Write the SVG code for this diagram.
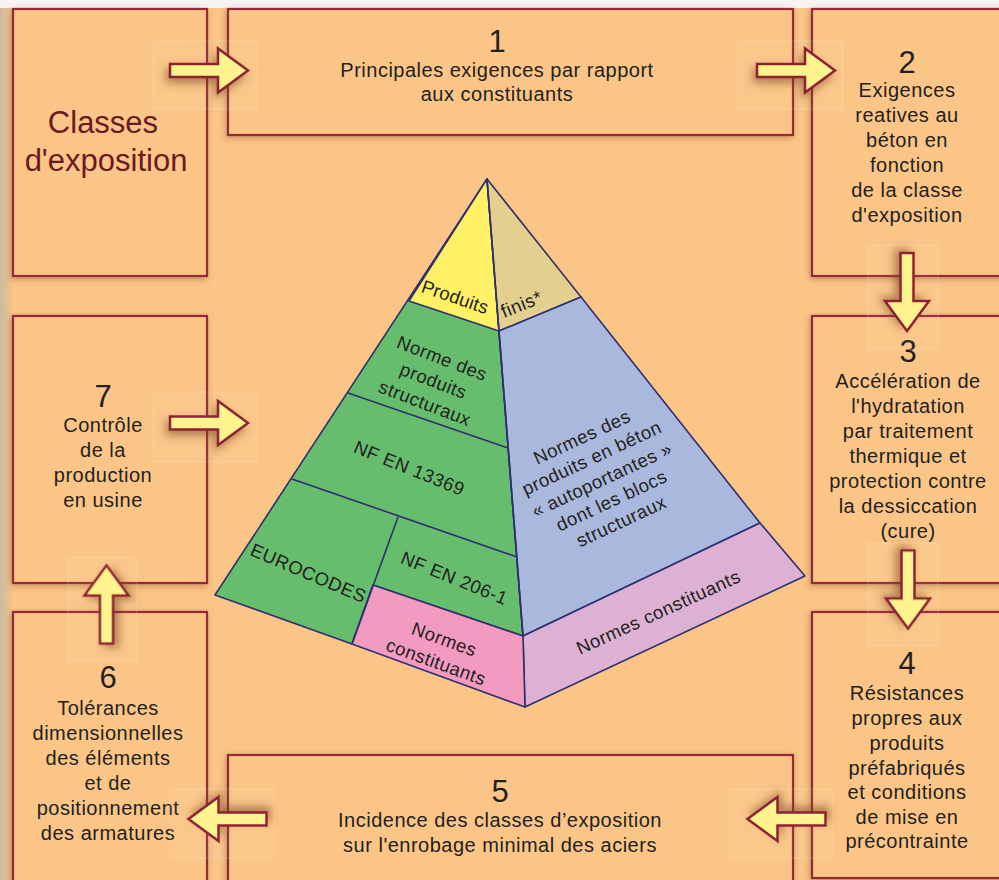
<svg xmlns="http://www.w3.org/2000/svg" width="999" height="880" viewBox="0 0 999 880">
<defs>
<linearGradient id="edge" x1="0" y1="0" x2="1" y2="0">
<stop offset="0" stop-color="#cdb9a2"/><stop offset="1" stop-color="#f2c38c"/>
</linearGradient>
<filter id="bsh" x="-10%" y="-10%" width="120%" height="120%">
<feDropShadow dx="-1" dy="2" stdDeviation="3" flood-color="#6b3418" flood-opacity="0.4"/>
</filter>
<filter id="ash" x="-40%" y="-40%" width="180%" height="180%">
<feDropShadow dx="-3" dy="5" stdDeviation="4" flood-color="#6b3418" flood-opacity="0.5"/>
</filter>
<path id="arr" d="M-39,-6.5 H9 V-22 L39,0 L9,22 V6.5 H-39 Z"/>
<style>
.box{fill:#fbc587;stroke:#962a38;stroke-width:2.2;filter:url(#bsh)}
.t{font-family:"Liberation Sans",Arial,sans-serif;fill:#231f20;font-size:20px;letter-spacing:0.5px;text-anchor:middle}
.n{font-size:31px;letter-spacing:0}
.cl{font-size:31px;fill:#6b1a1f;letter-spacing:0}
.a{fill:#fff38e;stroke:#8e2433;stroke-width:2.5;stroke-linejoin:miter;filter:url(#ash)}
.ghost{fill:#ffffff;fill-opacity:0.04;stroke:#ffffff;stroke-opacity:0.18;stroke-width:1}
.pl{stroke:#2e306e;stroke-width:1.6;stroke-linejoin:round}
.p{font-family:"Liberation Sans",Arial,sans-serif;fill:#231f20;font-size:18.5px;letter-spacing:0.5px;text-anchor:middle}
</style>
</defs>
<rect x="0" y="0" width="999" height="880" fill="#fbc587"/>
<rect x="0" y="0" width="12" height="880" fill="url(#edge)"/>
<rect x="0" y="0" width="999" height="8" fill="#f6f5f2"/>

<g id="node-classes"><rect class="box" x="13" y="9" width="194" height="267"/>
<text class="t cl" x="103" y="133">Classes</text><text class="t cl" x="106" y="171">d'exposition</text></g>

<g id="node-1"><rect class="box" x="228" y="9" width="565" height="126"/>
<text class="t n" x="497" y="52">1</text>
<text class="t" x="497" y="77">Principales exigences par rapport</text>
<text class="t" x="497" y="101">aux constituants</text></g>

<g id="node-2"><rect class="box" x="812" y="9" width="200" height="267"/>
<text class="t n" x="907" y="73">2</text>
<text class="t" x="907" y="97">Exigences</text>
<text class="t" x="907" y="122">reatives au</text>
<text class="t" x="907" y="147">béton en</text>
<text class="t" x="907" y="172">fonction</text>
<text class="t" x="907" y="197">de la classe</text>
<text class="t" x="907" y="222">d'exposition</text></g>

<g id="node-3"><rect class="box" x="812" y="316" width="200" height="267"/>
<text class="t n" x="908" y="362">3</text>
<text class="t" x="908" y="388">Accélération de</text>
<text class="t" x="908" y="413">l'hydratation</text>
<text class="t" x="908" y="438">par traitement</text>
<text class="t" x="908" y="463">thermique et</text>
<text class="t" x="908" y="488">protection contre</text>
<text class="t" x="908" y="513">la dessiccation</text>
<text class="t" x="908" y="538">(cure)</text></g>

<g id="node-4"><rect class="box" x="812" y="612" width="200" height="266"/>
<text class="t n" x="907" y="674">4</text>
<text class="t" x="907" y="700">Résistances</text>
<text class="t" x="907" y="725">propres aux</text>
<text class="t" x="907" y="750">produits</text>
<text class="t" x="907" y="775">préfabriqués</text>
<text class="t" x="907" y="799">et conditions</text>
<text class="t" x="907" y="824">de mise en</text>
<text class="t" x="907" y="848">précontrainte</text></g>

<g id="node-5"><rect class="box" x="228" y="755" width="565" height="140"/>
<text class="t n" x="500" y="802">5</text>
<text class="t" x="500" y="827">Incidence des classes d’exposition</text>
<text class="t" x="500" y="852">sur l'enrobage minimal des aciers</text></g>

<g id="node-6"><rect class="box" x="13" y="612" width="194" height="280"/>
<text class="t n" x="108" y="688">6</text>
<text class="t" x="108" y="715">Tolérances</text>
<text class="t" x="108" y="740">dimensionnelles</text>
<text class="t" x="108" y="765">des éléments</text>
<text class="t" x="108" y="790">et de</text>
<text class="t" x="108" y="815">positionnement</text>
<text class="t" x="108" y="840">des armatures</text></g>

<g id="node-7"><rect class="box" x="13" y="316" width="194" height="267"/>
<text class="t n" x="103" y="407">7</text>
<text class="t" x="103" y="432">Contrôle</text>
<text class="t" x="103" y="457">de la</text>
<text class="t" x="103" y="482">production</text>
<text class="t" x="103" y="507">en usine</text></g>

<g id="node-pyramid">
<polygon class="pl" fill="#66bd6e" points="487,179 215,595 352,644 373,585 523,636"/>
<polygon class="pl" fill="#fff066" points="487,179 409,301 499,331"/>
<polygon class="pl" fill="#e3d08f" points="487,179 499,331 581,297"/>
<polygon class="pl" fill="#abb8de" points="581,297 760,523 523,636 499,331"/>
<polygon class="pl" fill="#ddb1d4" points="523,636 760,523 805,576 525,707"/>
<polygon class="pl" fill="#f39ac0" points="373,585 523,636 525,707 352,644"/>
<line class="pl" x1="487" y1="179" x2="523" y2="636"/>
<line class="pl" x1="348" y1="393" x2="508" y2="448"/>
<line class="pl" x1="292" y1="479" x2="517" y2="557"/>
<line class="pl" x1="398" y1="517" x2="352" y2="644"/>
<text class="p" transform="translate(453,303) rotate(19)" style="letter-spacing:0.2px">Produits</text>
<text class="p" transform="translate(524,310) rotate(-22)">finis*</text>
<g transform="translate(433,382) rotate(21)">
<text class="p" x="0" y="-19">Norme des</text>
<text class="p" x="0" y="5">produits</text>
<text class="p" x="0" y="29">structuraux</text></g>
<text class="p" transform="translate(407,474) rotate(22)">NF EN 13369</text>
<text class="p" transform="translate(306,579) rotate(23)">EUROCODES</text>
<text class="p" transform="translate(452,584) rotate(22)">NF EN 206-1</text>
<g transform="translate(440,651) rotate(20)">
<text class="p" x="0" y="-6">Normes</text>
<text class="p" x="0" y="18">constituants</text></g>
<g transform="translate(602,480) rotate(-25)">
<text class="p" x="0" y="-41">Normes des</text>
<text class="p" x="0" y="-18">produits en béton</text>
<text class="p" x="0" y="6">« autoportantes »</text>
<text class="p" x="0" y="29">dont les blocs</text>
<text class="p" x="0" y="52">structuraux</text></g>
<text class="p" transform="translate(661,618) rotate(-24.5)">Normes constituants</text>
</g>

<g id="connectors">
<rect class="ghost" x="152" y="41" width="105" height="68"/>
<rect class="ghost" x="738" y="41" width="105" height="68"/>
<rect class="ghost" x="868" y="245" width="70" height="104"/>
<rect class="ghost" x="868" y="543" width="70" height="103"/>
<rect class="ghost" x="728" y="789" width="105" height="69"/>
<rect class="ghost" x="170" y="789" width="104" height="69"/>
<rect class="ghost" x="68" y="557" width="69" height="104"/>
<rect class="ghost" x="152" y="392" width="105" height="70"/>
<use href="#arr" class="a" transform="translate(209,70.5)"/>
<use href="#arr" class="a" transform="translate(796,70.5)"/>
<use href="#arr" class="a" transform="translate(907,292) rotate(90)"/>
<use href="#arr" class="a" transform="translate(908,589.5) rotate(90)"/>
<use href="#arr" class="a" transform="translate(786.5,819) rotate(180)"/>
<use href="#arr" class="a" transform="translate(227.5,819) rotate(180)"/>
<use href="#arr" class="a" transform="translate(106.5,604.5) rotate(-90)"/>
<use href="#arr" class="a" transform="translate(209,423)"/>
</g>
</svg>
